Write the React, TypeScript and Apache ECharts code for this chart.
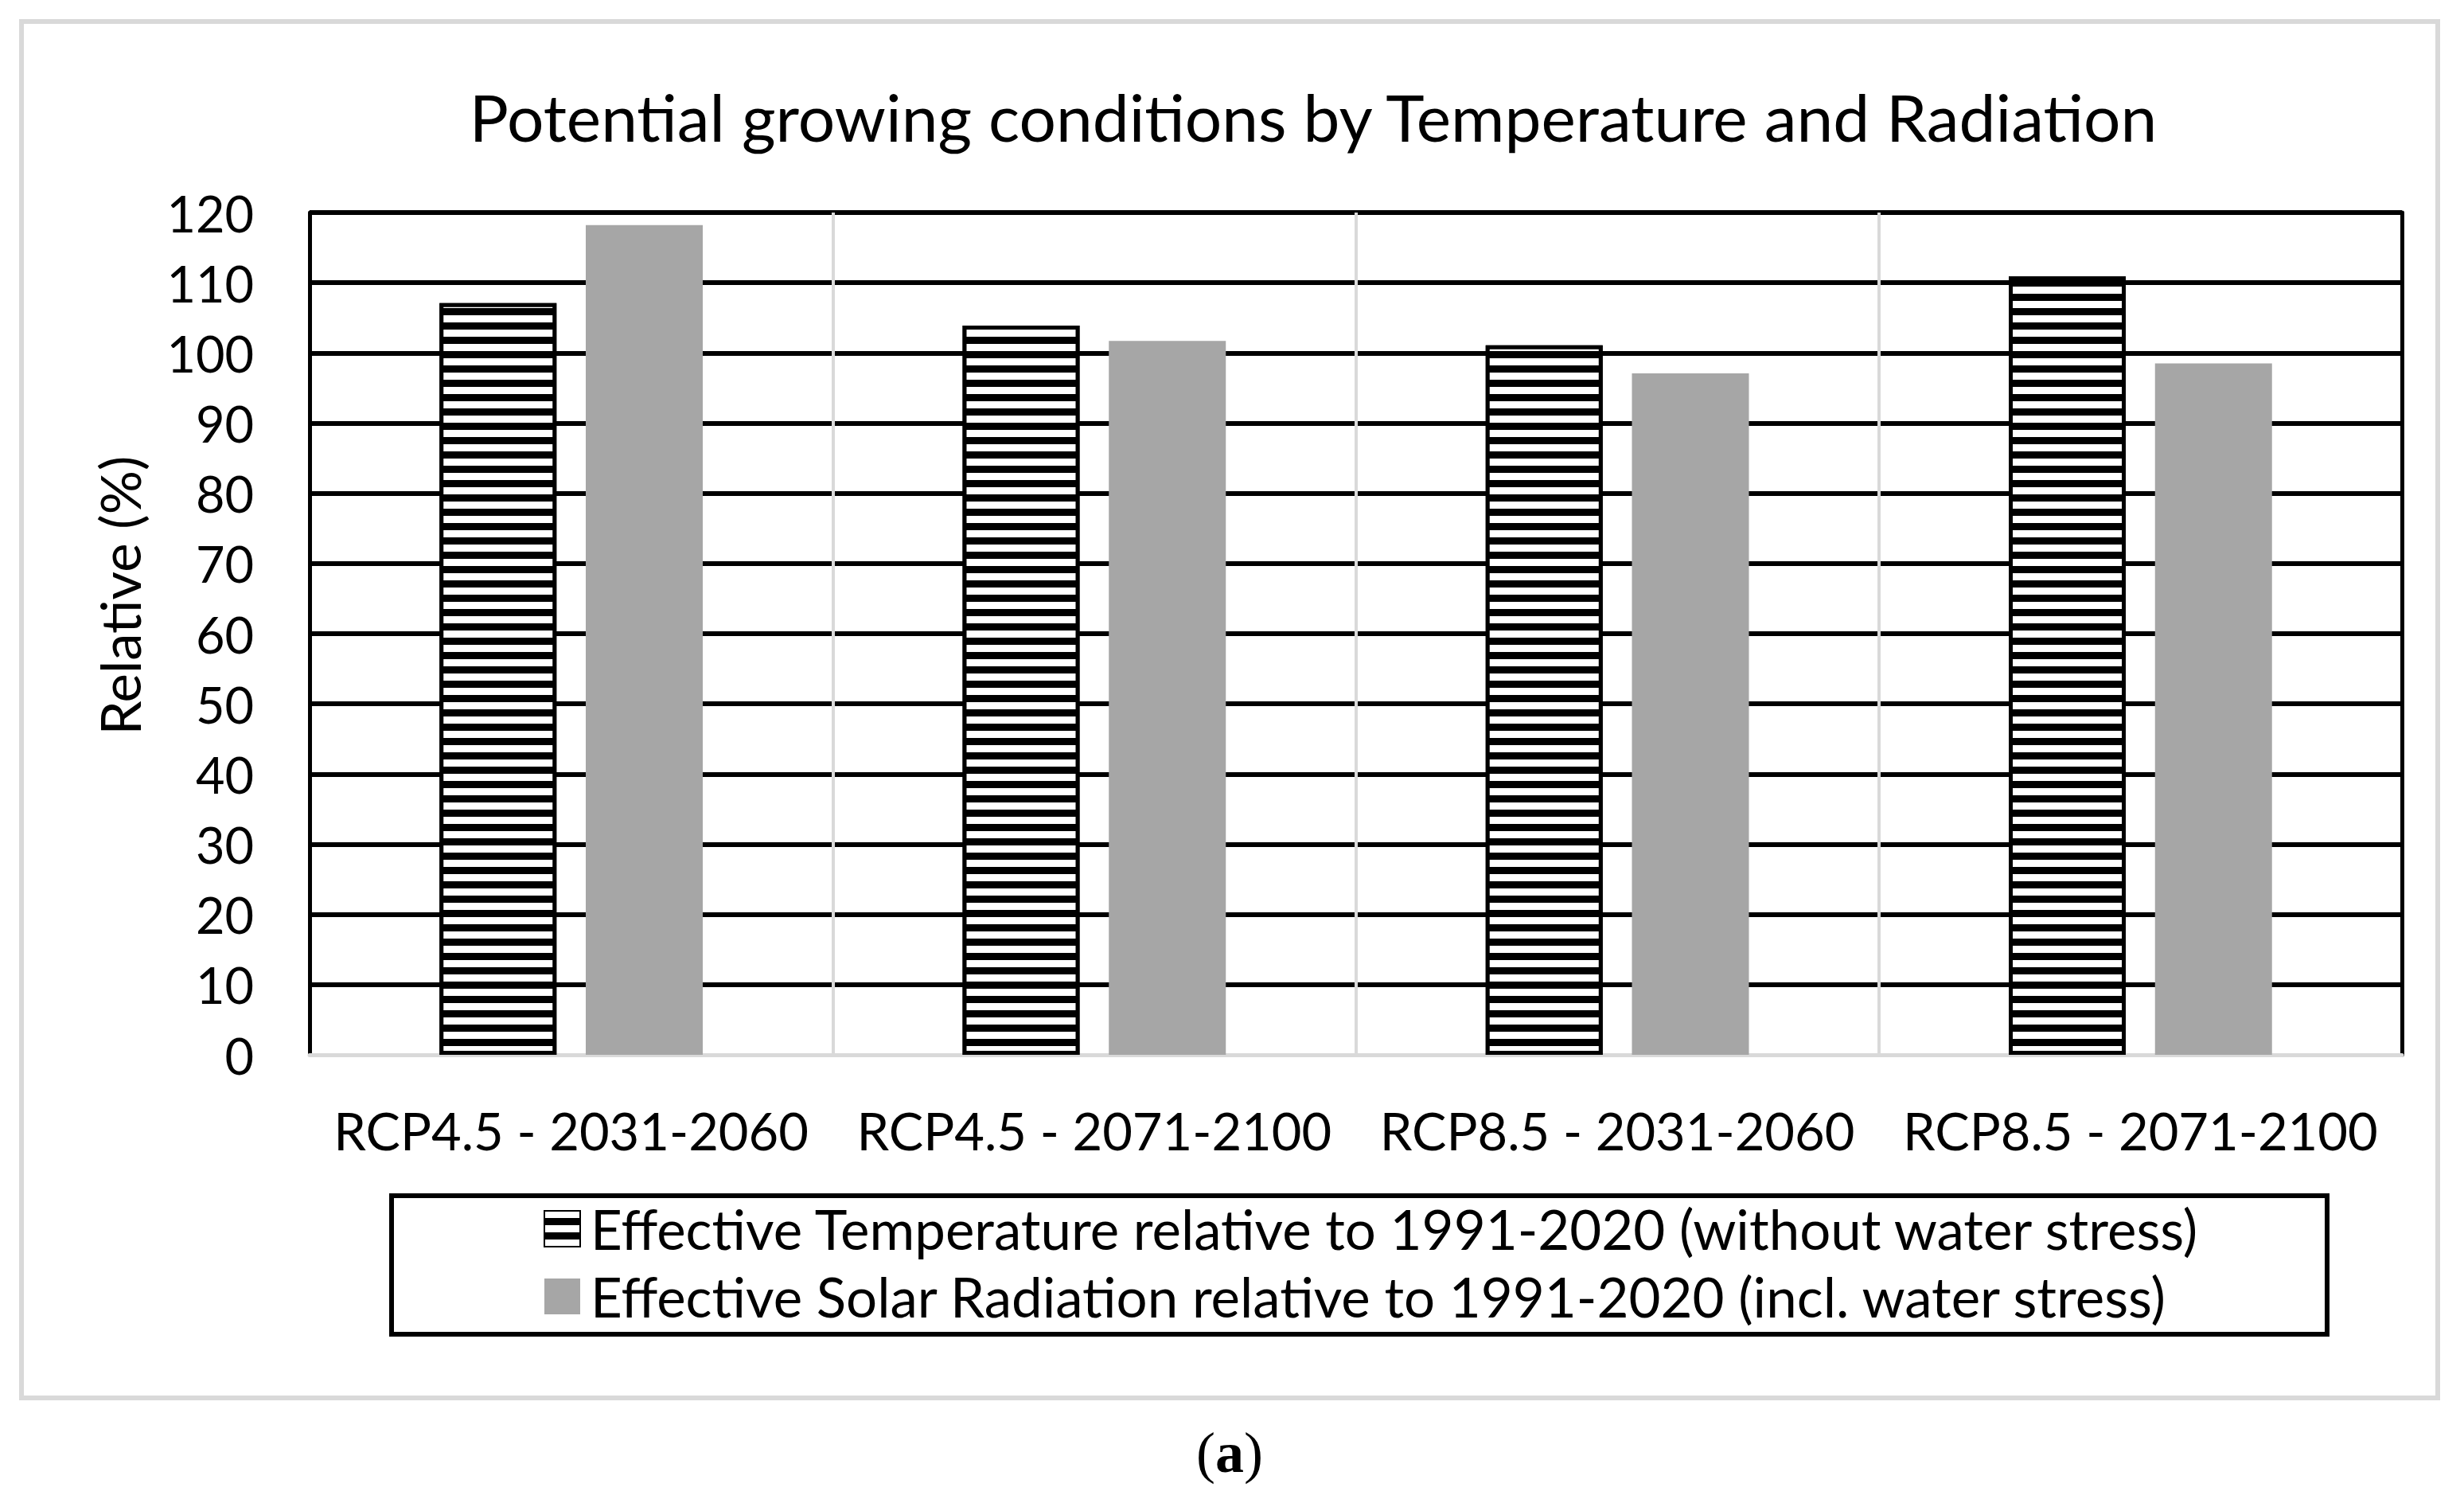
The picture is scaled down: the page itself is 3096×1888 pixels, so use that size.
import React, { useEffect, useRef } from "react";
import * as echarts from "echarts";

const chartTitle = "Potential growing conditions by Temperature and Radiation";
const yAxisTitle = "Relative (%)";
const panelLabel = "a";
const categories = [
  "RCP4.5 - 2031-2060",
  "RCP4.5 - 2071-2100",
  "RCP8.5 - 2031-2060",
  "RCP8.5 - 2071-2100",
];
const seriesNames = [
  "Effective Temperature relative to 1991-2020 (without water stress)",
  "Effective Solar Radiation relative to 1991-2020 (incl. water stress)",
];
const temperatureRelative = [107.1, 103.9, 101.1, 110.9];
const radiationRelative = [118.2, 101.7, 97.1, 98.5];
const yMin = 0;
const yMax = 120;
const yInterval = 10;

const FONT = "Lato";

export default function App() {
  const ref = useRef<HTMLDivElement>(null);
  useEffect(() => {
    document.body.style.margin = "0";
    const chart = echarts.init(ref.current!, null, { renderer: "svg" });
    chart.setOption({
      animation: false,
      backgroundColor: "#ffffff",
      grid: { left: 389, right: 78, top: 267, bottom: 563, containLabel: false },
      legend: {
        orient: "vertical",
        left: 678,
        top: 1504,
        itemWidth: 45,
        itemHeight: 45,
        itemGap: 16,
        selectedMode: false,
        icon: "rect",
        textStyle: { fontFamily: FONT, fontSize: 69, color: "#000", padding: [0, 0, 0, 8] },
        data: seriesNames,
      },
      xAxis: {
        type: "category",
        data: categories,
        boundaryGap: true,
        axisLine: { show: true, lineStyle: { color: "#d9d9d9", width: 5 } },
        axisTick: { show: false },
        splitLine: { show: true, lineStyle: { color: "#d9d9d9", width: 4 } },
        axisLabel: { fontFamily: FONT, fontSize: 65, color: "#000", margin: 62, interval: 0 },
      },
      yAxis: [
        {
          type: "value",
          min: yMin,
          max: yMax,
          interval: yInterval,
          axisLine: { show: true, lineStyle: { color: "#000", width: 5 } },
          axisTick: { show: false },
          splitLine: { show: true, showMinLine: false, lineStyle: { color: "#000", width: 6 } },
          axisLabel: { fontFamily: FONT, fontSize: 63, color: "#000", margin: 70 },
        },
        {
          type: "value",
          position: "right",
          min: yMin,
          max: yMax,
          interval: yInterval,
          axisLine: { show: true, lineStyle: { color: "#000", width: 5 } },
          axisTick: { show: false },
          splitLine: { show: false },
          axisLabel: { show: false },
        },
      ],
      series: [
        {
          name: seriesNames[0],
          type: "bar",
          data: temperatureRelative,
          barWidth: 147,
          barGap: "25%",
          itemStyle: {
            color: "#000",
            borderColor: "#000",
            borderWidth: 5,
            decal: {
              symbol: "rect",
              symbolSize: 1,
              dashArrayX: [20, 0],
              dashArrayY: [9, 9],
              rotation: 0,
              color: "#ffffff",
            },
          },
        },
        {
          name: seriesNames[1],
          type: "bar",
          data: radiationRelative,
          barWidth: 147,
          itemStyle: { color: "#a6a6a6" },
        },
      ],
      graphic: [
        {
          type: "rect",
          shape: { x: 27, y: 27, width: 3036, height: 1729 },
          style: { fill: "none", stroke: "#d9d9d9", lineWidth: 6 },
          silent: true,
          z: -1,
        },
        {
          type: "rect",
          shape: { x: 492, y: 1502, width: 2432, height: 174 },
          style: { fill: "none", stroke: "#000", lineWidth: 6 },
          silent: true,
        },
        {
          type: "text",
          x: 1650,
          y: 146,
          style: {
            text: chartTitle,
            fontFamily: FONT,
            fontSize: 82,
            fill: "#000",
            textAlign: "center",
            textVerticalAlign: "middle",
          },
        },
        {
          type: "text",
          x: 150,
          y: 748,
          rotation: Math.PI / 2,
          style: {
            text: yAxisTitle,
            fontFamily: FONT,
            fontSize: 69,
            fill: "#000",
            textAlign: "center",
            textVerticalAlign: "middle",
          },
        },
        {
          type: "text",
          x: 1545,
          y: 1825,
          style: {
            text: "({b|" + panelLabel + "})",
            fontFamily: "Liberation Serif",
            fontSize: 72,
            fill: "#000",
            textAlign: "center",
            textVerticalAlign: "middle",
            rich: {
              b: { fontFamily: "Liberation Serif", fontSize: 72, fontWeight: "bold", fill: "#000" },
            },
          },
        },
      ],
    });
    return () => chart.dispose();
  }, []);
  return <div ref={ref} style={{ width: 3096, height: 1888 }} />;
}
